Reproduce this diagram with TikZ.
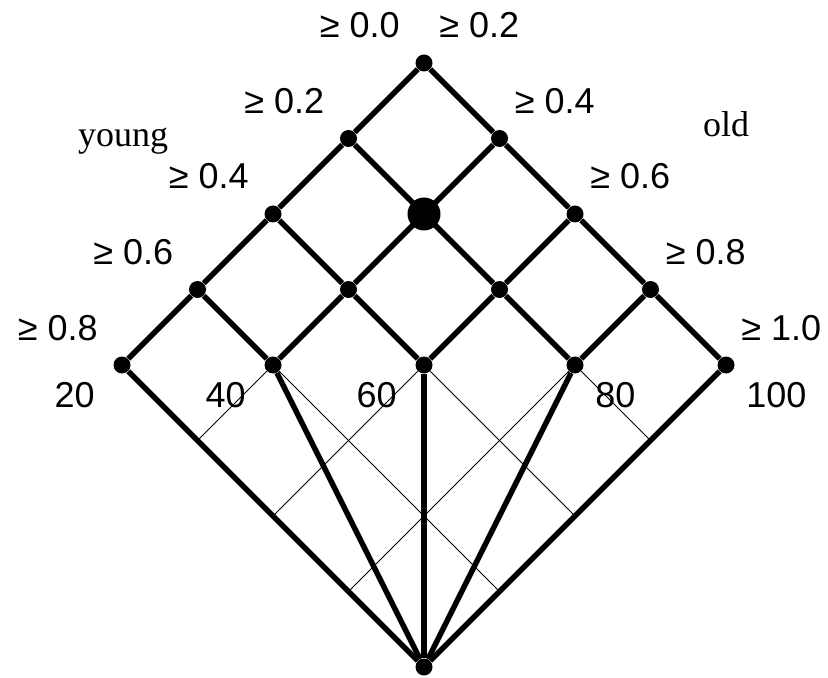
\documentclass[tikz,border=0pt]{standalone}
\usepackage{fontspec}
\setmainfont{Liberation Serif}
\setsansfont{Liberation Sans}
\usetikzlibrary{calc}

\begin{document}
\begin{tikzpicture}[x=0.5pt, y=-0.5pt,
    vertex/.style={circle, fill=black, inner sep=0pt, minimum size=8.5pt},
    bigvertex/.style={circle, fill=black, inner sep=0pt, minimum size=16.5pt},
    link/.style={line width=2.7pt},
    gridline/.style={line width=0.5pt},
    lbl/.style={font=\sffamily\fontsize{18}{20}\selectfont, inner sep=0pt},
    tag/.style={font=\rmfamily\fontsize{18}{20}\selectfont, inner sep=0pt}]
  \useasboundingbox (0,0) rectangle (828,678);

  % lattice: level \k, index \m
  \foreach \k in {0,...,4} {
    \foreach \m in {0,...,\k} {
      \node[vertex] (n\k\m) at ({424 + (2*\m-\k)*75.5}, {63 + \k*75.5}) {};
    }
  }
  \node[vertex] (base) at (424,667) {};

  % upper links
  \foreach \k in {0,...,3} {
    \pgfmathtruncatemacro\kk{\k+1}
    \foreach \m in {0,...,\k} {
      \pgfmathtruncatemacro\mm{\m+1}
      \draw[link] (n\k\m) -- (n\kk\m);
      \draw[link] (n\k\m) -- (n\kk\mm);
    }
  }
  \node[bigvertex] (mid) at (n21) {};

  % fan down to the base
  \foreach \m in {0,...,4}
    \draw[link] (n4\m) -- (base);

  % thin grid below
  \foreach \t/\i in {0.25/1, 0.5/2, 0.75/3} {
    \coordinate (l\i) at ($(n40)!\t!(base)$);
    \coordinate (r\i) at ($(n44)!\t!(base)$);
  }
  \foreach \m/\a/\b in {1/1/3, 2/2/2, 3/3/1}
    \draw[gridline] (l\a) -- (n4\m) -- (r\b);

  % thresholds
  \foreach \k/\v in {0/0.0, 1/0.2, 2/0.4, 3/0.6, 4/0.8}
    \node[lbl, anchor=base east] (lo\k) at ($(n\k0)+(-24,-25)$) {≥ \v};
  \foreach \k/\v in {0/0.2, 1/0.4, 2/0.6, 3/0.8, 4/1.0}
    \node[lbl, anchor=base west] (hi\k) at ($(n\k\k)+(15,-25)$) {≥ \v};

  % ages
  \foreach \m/\a in {0/20, 1/40, 2/60}
    \node[lbl, anchor=base east] (age\m) at ($(n4\m)+(-27,42)$) {\a};
  \foreach \m/\a in {3/80, 4/100}
    \node[lbl, anchor=base west] (age\m) at ($(n4\m)+(20,42)$) {\a};

  \node[tag, anchor=base] (young) at (123,147) {young};
  \node[tag, anchor=base] (old) at (726,137) {old};
\end{tikzpicture}
\end{document}
